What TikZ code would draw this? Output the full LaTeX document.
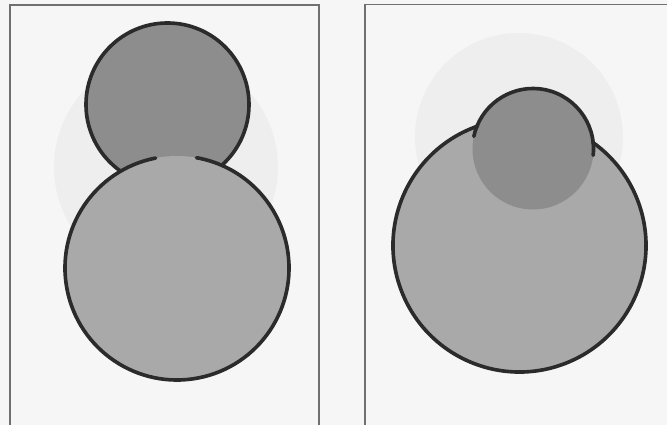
\documentclass[tikz,border=0pt]{standalone}
\definecolor{paper}{HTML}{F6F6F6}
\definecolor{ghost}{HTML}{EEEEEE}
\definecolor{framec}{HTML}{707070}
\definecolor{darkfill}{HTML}{8D8D8D}
\definecolor{lightfill}{HTML}{A9A9A9}
\definecolor{outl}{HTML}{2B2B2B}
\tikzset{
  panelframe/.style={draw=framec, line width=1.1pt},
  outline/.style={draw=outl, line width=3.1pt, line cap=round},
  ghostdisk/.style={fill=ghost},
}
\begin{document}
\begin{tikzpicture}[x=0.03cm,y=0.03cm]
\useasboundingbox[fill=paper] (0,0) rectangle (667,425);
% faint background disks
\fill[ghostdisk] (166,258) circle (112);
\fill[ghostdisk] (519,288) circle (104);
% panel frames
\coordinate (lbl) at (10,0);
\coordinate (ltl) at (10,420);
\coordinate (ltr) at (319,420);
\coordinate (lbr) at (319,0);
\draw[panelframe] (lbl) -- (ltl) -- (ltr) -- (lbr);
\coordinate (rbl) at (365,0);
\coordinate (rtl) at (365,420.5);
\coordinate (rtr) at (667,420.5);
\draw[panelframe] (rbl) -- (rtl) -- (rtr);
% left panel
\coordinate (lsmall) at (167.5,320.5);
\coordinate (lbig) at (177,157);
\fill[darkfill] (lsmall) circle (81.5);
\draw[outline] (lsmall) circle (81.5);
\fill[lightfill] (lbig) circle (112);
\draw[outline] ([shift={(101:112)}]lbig) arc[start angle=101, end angle=440, radius=112];
% right panel
\coordinate (rbig) at (519.5,179.5);
\coordinate (rsmall) at (533,276);
\fill[lightfill] (rbig) circle (126.5);
\fill[darkfill] (rsmall) circle (60.5);
\draw[outline] ([shift={(109.3:126.5)}]rbig) arc[start angle=109.3, end angle=414.7, radius=126.5];
\draw[outline] ([shift={(-6:60.5)}]rsmall) arc[start angle=-6, end angle=168, radius=60.5];
\end{tikzpicture}
\end{document}
